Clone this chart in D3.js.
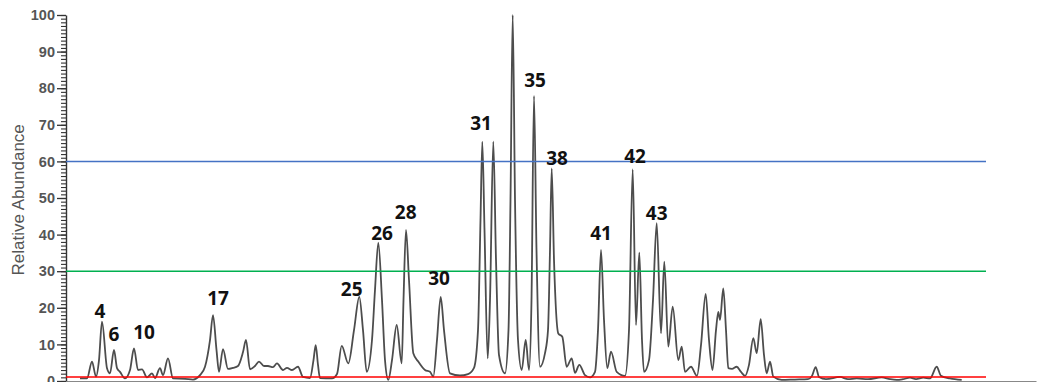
<!DOCTYPE html>
<html>
<head>
<meta charset="utf-8">
<script src="https://cdn.jsdelivr.net/npm/d3@7"></script>
<style>
  body { margin: 0; background: #fff; }
  svg { display: block; }
  .tick-label { font-family: "Liberation Sans", Arial, sans-serif; font-size: 14.5px; font-weight: 700; fill: #555; }
  .peak-label { font-family: "Open Sans", sans-serif; font-weight: 700; font-size: 19px; fill: #111; }
  .axis-title { font-family: "Liberation Sans", Arial, sans-serif; font-size: 17px; fill: #555; }
</style>
</head>
<body>
<svg id="chart" width="1038" height="382"></svg>
<script>
// retention time (arbitrary min) and relative abundance
const retentionTime = [
  1.4, 2.1, 2.6, 3.0, 3.3, 3.6, 4.1, 4.4, 4.8, 5.1, 5.4, 5.9, 6.4, 6.8, 7.2, 7.6, 8.1, 8.6, 8.9, 9.4,
  9.7, 10.2, 10.7, 11.9, 12.7, 13.4, 13.9, 14.4, 14.7, 15.05, 15.3, 15.7, 16.2, 16.7, 17.2, 17.7, 18.0, 18.4, 18.9, 19.3,
  19.8, 20.2, 20.7, 21.1, 21.7, 22.1, 22.6, 23.2, 23.7, 24.4, 24.75, 24.97, 25.2, 25.4, 26.6, 27.1, 27.57, 28.23, 28.8, 29.33,
  29.7, 30.07, 30.6, 30.9, 31.23, 31.6, 31.9, 32.23, 32.6, 33.07, 33.57, 33.75, 34.0, 34.3, 34.73, 35.23, 35.9, 36.4, 36.73, 37.1,
  37.47, 37.8, 38.4, 39.4, 40.2, 40.8, 41.2, 41.45, 41.63, 41.85, 42.17, 42.4, 42.73, 43.0, 43.3, 43.9, 44.25, 44.45, 44.67, 44.9,
  45.2, 45.57, 45.97, 46.3, 46.55, 46.8, 47.05, 47.4, 47.9, 48.2, 48.4, 48.57, 48.8, 49.23, 49.63, 50.07, 50.57, 50.9, 51.33, 51.9,
  52.4, 52.9, 53.2, 53.5, 53.8, 54.13, 54.5, 55.07, 55.9, 56.3, 56.67, 57.0, 57.33, 57.6, 57.8, 58.3, 58.7, 59.07, 59.5, 59.83,
  60.23, 60.67, 61.23, 61.57, 61.9, 62.5, 63.1, 63.5, 63.97, 64.3, 64.65, 65.0, 65.23, 65.4, 65.73, 66.0, 66.23, 66.6, 67.07, 67.5,
  67.9, 68.3, 68.73, 69.07, 69.47, 69.8, 70.07, 70.4, 70.73, 71.57, 72.9, 74.2, 74.6, 74.97, 75.3, 76.0, 77.4, 78.2, 79.07, 80.2,
  81.57, 82.4, 83.07, 83.7, 84.4, 85.0, 85.73, 86.4, 87.07, 87.5, 88.4, 89.57
];
const abundance = [
  0.7, 0.7, 5.3, 1.2, 5.7, 16.2, 3.5, 2.1, 8.5, 3.5, 2.5, 0.7, 3.0, 8.9, 3.0, 3.2, 1.0, 2.1, 0.8, 3.5,
  1.6, 6.2, 0.7, 0.6, 0.4, 1.6, 3.9, 11.2, 18.0, 8.5, 2.5, 8.7, 3.3, 3.6, 4.1, 7.9, 11.2, 3.2, 4.1, 5.3,
  4.1, 4.1, 3.8, 4.8, 3.0, 3.6, 3.0, 3.9, 1.1, 0.8, 5.7, 9.8, 4.4, 0.8, 0.7, 1.9, 9.6, 4.8, 13.9, 23.0,
  13.9, 2.5, 11.2, 24.9, 37.8, 22.1, 5.7, 0.3, 5.7, 15.3, 4.8, 22.1, 41.3, 27.6, 7.6, 5.3, 3.0, 2.5, 1.2, 11.2,
  23.0, 13.9, 2.1, 1.5, 1.9, 3.6, 13.9, 44.0, 65.4, 41.3, 6.2, 22.1, 65.4, 33.1, 7.1, 2.1, 13.9, 49.5, 100, 49.5,
  11.2, 3.0, 11.2, 3.0, 22.1, 77.9, 35.8, 3.9, 7.6, 13.9, 35.8, 58.1, 33.1, 13.0, 12.1, 3.9, 6.2, 2.2, 4.4, 1.6,
  1.0, 2.5, 13.9, 35.8, 16.7, 3.5, 8.0, 2.5, 1.4, 13.9, 57.8, 15.3, 35.1, 11.2, 2.5, 5.7, 22.1, 43.1, 13.0, 32.6,
  9.4, 20.3, 5.7, 9.4, 2.5, 3.9, 1.4, 9.8, 23.8, 11.2, 3.0, 13.9, 18.9, 16.7, 25.3, 13.9, 3.5, 3.3, 3.9, 2.5,
  1.4, 4.4, 11.7, 7.6, 16.9, 7.1, 2.1, 5.3, 1.2, 0.3, 0.4, 0.5, 1.4, 3.8, 1.1, 0.5, 1.1, 0.5, 0.7, 0.5,
  1.0, 0.5, 0.3, 0.5, 0.9, 0.5, 0.9, 0.7, 3.9, 1.4, 0.7, 0.3
];

// peak numbers and where they sit (time, abundance of text baseline)
const peakNames = ['4', '6', '10', '17', '25', '26', '28', '30', '31', '35', '38', '41', '42', '43'];
const peakLabelTime = [3.4, 4.8, 7.8, 15.2, 28.57, 31.6, 33.97, 37.3, 41.5, 46.9, 49.1, 53.5, 56.9, 59.07];
const peakLabelLevel = [17.2, 10.9, 11.5, 20.8, 23.2, 38.5, 44.3, 26.2, 68.6, 80.3, 59.0, 38.5, 59.6, 44.0];

// threshold lines
const thresholdLevels = [60, 30, 1.1];
const thresholdColors = ['#4472c4', '#00b050', '#ff0000'];

const yMajorTicks = d3.range(0, 101, 10);
const yMinorTicks = d3.range(0, 101, 1);

const svg = d3.select('#chart');

const x = d3.scaleLinear().domain([0, 97]).range([66, 1036]);
const y = d3.scaleLinear().domain([0, 100]).range([381, 15]);

const trace = retentionTime.map((t, i) => ({ t: t, v: abundance[i] }));

// x axis baseline (no ticks shown)
svg.append('g')
  .attr('transform', `translate(0,${y(0)})`)
  .call(d3.axisBottom(x).tickValues([]).tickSizeOuter(0))
  .call(g => g.select('.domain').attr('stroke', '#888').attr('stroke-width', 1.2));

// minor ticks
svg.append('g')
  .attr('transform', `translate(${x(0)},0)`)
  .call(d3.axisLeft(y).tickValues(yMinorTicks).tickSize(5).tickFormat(''))
  .call(g => g.select('.domain').remove())
  .call(g => g.selectAll('.tick line').attr('stroke', '#333').attr('stroke-width', 1.1));

// major ticks + labels
svg.append('g')
  .attr('transform', `translate(${x(0)},0)`)
  .call(d3.axisLeft(y).tickValues(yMajorTicks).tickSize(9).tickPadding(2).tickSizeOuter(0))
  .call(g => g.select('.domain').attr('stroke', '#333').attr('stroke-width', 1.4))
  .call(g => g.selectAll('.tick line').attr('stroke', '#333').attr('stroke-width', 1.3))
  .call(g => g.selectAll('.tick text').attr('class', 'tick-label').attr('fill', null));

svg.append('text')
  .attr('class', 'axis-title')
  .attr('transform', `translate(24,${y(49.5)}) rotate(-90)`)
  .attr('text-anchor', 'middle')
  .text('Relative Abundance');

const line = d3.line()
  .x(d => x(d.t))
  .y(d => y(d.v))
  .curve(d3.curveMonotoneX);

svg.append('path')
  .datum(trace)
  .attr('fill', 'none')
  .attr('stroke', '#4d4d4d')
  .attr('stroke-width', 1.8)
  .attr('stroke-linejoin', 'round')
  .attr('d', line);

svg.selectAll('.threshold')
  .data(thresholdLevels)
  .enter().append('line')
  .attr('class', 'threshold')
  .attr('x1', x(0))
  .attr('x2', x(92))
  .attr('y1', d => y(d))
  .attr('y2', d => y(d))
  .attr('stroke', (d, i) => thresholdColors[i])
  .attr('stroke-width', 1.5);

svg.selectAll('.peak-label')
  .data(peakNames)
  .enter().append('text')
  .attr('class', 'peak-label')
  .attr('text-anchor', 'middle')
  .attr('x', (d, i) => x(peakLabelTime[i]))
  .attr('y', (d, i) => y(peakLabelLevel[i]))
  .text(d => d);
</script>
</body>
</html>
